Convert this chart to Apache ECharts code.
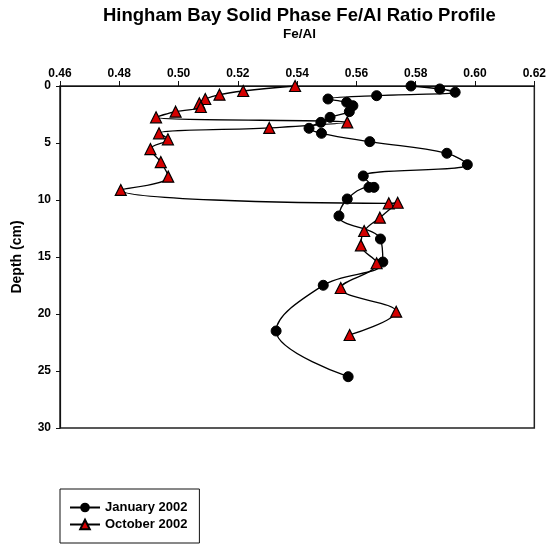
<!DOCTYPE html>
<html>
<head>
<meta charset="utf-8">
<script src="https://cdn.jsdelivr.net/npm/echarts@6/dist/echarts.min.js"></script>
<style>html,body{margin:0;padding:0;background:#fff;}#c{width:549px;height:544px;}</style>
</head>
<body>
<div id="c"></div>
<script>
// Data
const janX = [0.5784,0.5881,0.5933,0.5668,0.5504,0.5567,0.5588,0.5576,0.5511,0.5480,0.5440,0.5482,0.5645,0.5905,0.5974,0.5623,0.5659,0.5642,0.5569,0.5541,0.5681,0.5689,0.5488,0.5329,0.5572];
const janDepth = [0,0.26,0.55,0.85,1.14,1.43,1.73,2.25,2.75,3.19,3.71,4.15,4.88,5.90,6.90,7.89,8.89,8.89,9.91,11.40,13.42,15.44,17.48,21.49,25.50];
const octX = [0.5393,0.5218,0.5138,0.5090,0.5070,0.5075,0.4990,0.4924,0.5569,0.5306,0.4934,0.4964,0.4905,0.4940,0.4965,0.4805,0.5709,0.5739,0.5679,0.5626,0.5615,0.5668,0.5547,0.5734,0.5577];
const octDepth = [0,0.44,0.76,1.14,1.52,1.84,2.25,2.75,3.19,3.68,4.15,4.68,5.53,6.67,7.95,9.12,10.29,10.24,11.55,12.72,13.98,15.55,17.72,19.80,21.84];
const seriesNames = ["January 2002","October 2002"];
const titleText = "Hingham Bay Solid Phase Fe/Al Ratio Profile";
const subText = "Fe/Al";
const yName = "Depth (cm)";

const FONT = "'Liberation Sans', Arial, sans-serif";
const chart = echarts.init(document.getElementById('c'), null, {renderer:'canvas'});
const zip = (xs, ys) => xs.map((x, i) => [x, ys[i]]);

chart.setOption({
  animation: false,
  backgroundColor: '#fff',
  graphic: [
    {type:'text', top: 6, left: 103, style:{text: titleText, fontFamily: FONT, fontWeight:'bold', fontSize: 18.5, fill:'#000'}},
    {type:'text', top: 27, left: 283, style:{text: subText, fontFamily: FONT, fontWeight:'bold', fontSize: 13.5, fill:'#000'}}
  ],
  grid: {left: 60, right: 13, top: 86, bottom: 116, show: true, borderColor: '#222', borderWidth: 1.5, backgroundColor: 'transparent'},
  xAxis: {
    type: 'value', position: 'top', min: 0.46, max: 0.62, interval: 0.02,
    axisLine: {show: true, lineStyle: {color: '#111', width: 1.2}},
    axisTick: {show: true, inside: false, length: 5, lineStyle: {color: '#111'}},
    axisLabel: {formatter: v => v.toFixed(2), color: '#000', fontFamily: FONT, fontWeight: 'bold', fontSize: 12, margin: 6},
    splitLine: {show: false}
  },
  yAxis: {
    type: 'value', inverse: true, min: 0, max: 30, interval: 5,
    name: yName, nameLocation: 'middle', nameGap: 36, nameRotate: 90,
    nameTextStyle: {color: '#000', fontFamily: FONT, fontWeight: 'bold', fontSize: 14},
    axisLine: {show: true, lineStyle: {color: '#111', width: 1.2}},
    axisTick: {show: true, inside: false, length: 4, lineStyle: {color: '#111'}},
    axisLabel: {color: '#000', fontFamily: FONT, fontWeight: 'bold', fontSize: 12, margin: 9},
    splitLine: {show: false}
  },
  legend: {
    orient: 'vertical', left: 60, top: 489,
    padding: [12, 12, 12, 9], itemGap: 4, itemWidth: 30, itemHeight: 12,
    borderColor: '#111', borderWidth: 1, backgroundColor: '#fff',
    textStyle: {color: '#000', fontFamily: FONT, fontWeight: 'bold', fontSize: 13},
    data: seriesNames
  },
  series: [
    {
      name: seriesNames[0], type: 'line', smooth: 0.4,
      data: zip(janX, janDepth),
      symbol: 'circle', symbolSize: 10,
      itemStyle: {color: '#000', borderColor: '#000'},
      lineStyle: {color: '#000', width: 1.3}
    },
    {
      name: seriesNames[1], type: 'line', smooth: 0.4,
      data: zip(octX, octDepth),
      symbol: 'triangle', symbolSize: 11,
      itemStyle: {color: '#d40000', borderColor: '#000', borderWidth: 1.2},
      lineStyle: {color: '#000', width: 1.3}
    }
  ]
});
</script>
</body>
</html>
